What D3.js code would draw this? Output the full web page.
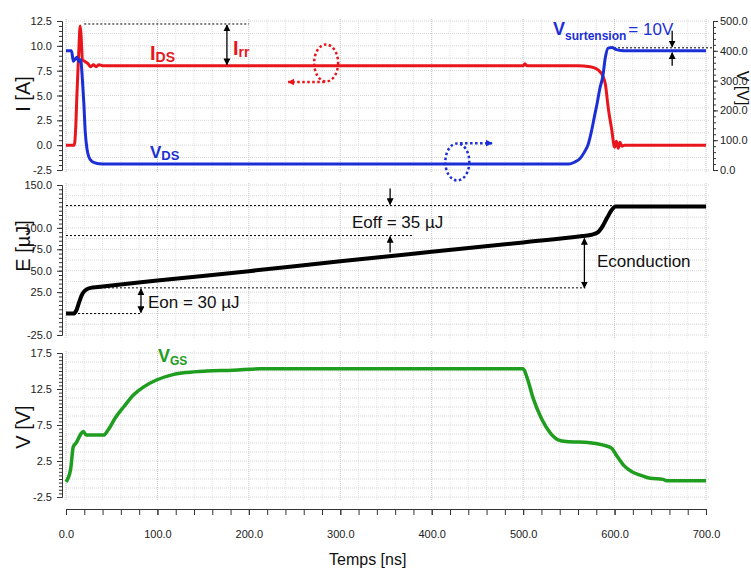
<!DOCTYPE html>
<html>
<head>
<meta charset="utf-8">
<script src="https://cdn.jsdelivr.net/npm/d3@7"></script>
<style>
body { margin: 0; background: #fff; }
text { font-family: "Liberation Sans", Arial, sans-serif; }
</style>
</head>
<body>
<svg id="chart" width="751" height="572"></svg>
<script>
// tick labels
var timeTicks = [0, 100, 200, 300, 400, 500, 600, 700];
var iTicks = [-2.5, 0, 2.5, 5, 7.5, 10, 12.5];
var vTicks = [0, 100, 200, 300, 400, 500];
var eTicks = [-25, 25, 50, 75, 100, 150];
var gTicks = [-2.5, 2.5, 7.5, 12.5, 17.5];

// I_DS [A]
var tI = [0, 9, 10.5, 12, 14, 15.5, 16.5, 18, 21, 24, 27, 30, 33, 36, 40, 100, 200, 300, 400, 500, 502, 504, 560, 573, 580, 584, 587, 590, 593, 597, 600, 602, 604, 606, 608, 611, 650, 700];
var iDS = [0, 0, 1.5, 5.2, 9.5, 12.0, 11.0, 8.6, 8.4, 8.2, 7.9, 8.1, 7.9, 8.1, 8.0, 8.0, 8.0, 8.0, 8.0, 8.0, 8.2, 8.0, 8.0, 7.9, 7.7, 7.4, 7.0, 6.1, 3.8, 1.5, -0.2, 0.4, -0.3, 0.3, -0.1, 0.0, 0.0, 0.0];

// V_DS [V]
var tV = [0, 6, 8, 10, 12, 14, 16, 18, 19.5, 21, 23, 25, 28, 32, 36, 45, 100, 200, 300, 400, 500, 550, 556, 562, 567, 571, 575, 578, 581, 584, 587, 590, 593, 597, 602, 607, 613, 620, 700];
var vDS = [400, 400, 365, 372, 378, 364, 370, 300, 225, 130, 70, 44, 30, 24, 21, 20, 20, 20, 20, 20, 20, 20, 26, 38, 60, 85, 134, 180, 225, 275, 312, 379, 409, 411, 404, 401, 400, 400, 400];

// E [uJ]
var tE = [0, 8, 11, 14, 17, 20, 23, 27, 35, 100, 200, 300, 400, 500, 565, 575, 582, 587, 592, 597, 601, 700];
var eVal = [0, 0, 3, 12, 21, 26, 28.5, 30, 31, 38.5, 49.5, 61, 72, 83, 90.5, 92, 95, 102, 112, 121, 125, 125];

// V_GS [V]
var tG = [0, 5, 8, 11, 17, 19, 22, 30, 41, 46, 54, 63, 74, 85, 99, 117, 132, 154, 183, 212, 300, 400, 500, 504, 511, 520, 530, 539, 547, 573, 588, 597, 602, 610, 619, 628, 639, 653, 657, 700];
var vGS = [-0.4, 1.3, 4.5, 5.0, 6.4, 6.6, 6.1, 6.1, 6.1, 6.8, 8.5, 10.0, 11.7, 12.8, 13.75, 14.5, 14.8, 15.0, 15.1, 15.3, 15.3, 15.3, 15.3, 14.2, 11.2, 8.4, 6.35, 5.4, 5.2, 5.05, 4.7, 4.25, 3.3, 1.9, 1.0, 0.55, 0.1, -0.05, -0.25, -0.25];

// energy levels for the annotations
var eLevels = [0, 30, 91, 126];

var red = "#e8161c", blue = "#1c2fd6", green = "#1f9d1f";

var svg = d3.select("#chart");

var x = d3.scaleLinear().domain([0, 700]).range([66, 706]);
var yI = d3.scaleLinear().domain([-2.5, 12.5]).range([170, 21]);
var yV = d3.scaleLinear().domain([0, 500]).range([170, 21]);
var yE = d3.scaleLinear().domain([-25, 150]).range([335, 185]);
var yG = d3.scaleLinear().domain([-2.5, 17.5]).range([497, 353]);

var defs = svg.append("defs");
function marker(id, color) {
	defs.append("marker")
		.attr("id", id)
		.attr("viewBox", "0 0 10 10")
		.attr("refX", 9)
		.attr("refY", 5)
		.attr("markerWidth", 7)
		.attr("markerHeight", 7)
		.attr("markerUnits", "userSpaceOnUse")
		.attr("orient", "auto-start-reverse")
		.append("path")
		.attr("d", "M0,0L10,5L0,10z")
		.attr("fill", color);
}
marker("arK", "#000");
marker("arR", red);
marker("arB", blue);

function grid(y, step) {
	var g = svg.append("g");
	var r = y.range(), dom = y.domain();
	g.selectAll("line.v")
		.data(d3.range(0, 701, 20))
		.enter()
			.append("line")
			.attr("x1", x).attr("x2", x)
			.attr("y1", r[1] - 2).attr("y2", r[0] + 3)
			.attr("stroke", function(d) { return d % 100 === 0 ? "#c2c2c2" : "#e3e3e3"; })
			.attr("stroke-dasharray", "1,1");
	g.selectAll("line.h")
		.data(d3.range(dom[0], dom[1] + step / 2, step))
		.enter()
			.append("line")
			.attr("x1", x.range()[0]).attr("x2", x.range()[1] + 4)
			.attr("y1", y).attr("y2", y)
			.attr("stroke", "#d6d6d6")
			.attr("stroke-dasharray", "1,1");
}
grid(yI, 1.25);
grid(yE, 12.5);
grid(yG, 1.25);

function fmt(d) { return d.toFixed(1); }

function styleAxis(g) {
	g.attr("font-family", "'Liberation Sans Narrow', 'Arial Narrow', sans-serif")
		.attr("font-size", 11);
	g.selectAll("text").attr("fill", "#222");
	g.selectAll("line, path").attr("stroke", "#333");
}

function leftAxis(y, ticks, minor) {
	var dom = y.domain();
	svg.append("g")
		.attr("transform", "translate(62,0)")
		.call(d3.axisLeft(y).tickValues(d3.range(dom[0], dom[1] + minor / 2, minor)).tickSize(3).tickSizeOuter(0).tickFormat(""))
		.call(styleAxis);
	svg.append("g")
		.attr("transform", "translate(62,0)")
		.call(d3.axisLeft(y).tickValues(ticks).tickSize(5).tickSizeOuter(0).tickPadding(5).tickFormat(fmt))
		.call(styleAxis);
}
leftAxis(yI, iTicks, 0.5);
leftAxis(yE, eTicks, 5);
leftAxis(yG, gTicks, 0.5);

svg.append("g")
	.attr("transform", "translate(713,0)")
	.call(d3.axisRight(yV).tickValues(d3.range(0, 501, 20)).tickSize(3).tickSizeOuter(0).tickFormat(""))
	.call(styleAxis);
svg.append("g")
	.attr("transform", "translate(713,0)")
	.call(d3.axisRight(yV).tickValues(vTicks).tickSize(5).tickSizeOuter(0).tickPadding(2).tickFormat(fmt))
	.call(styleAxis);

svg.append("g")
	.attr("transform", "translate(0,509)")
	.call(d3.axisBottom(x).tickValues(d3.range(0, 701, 20)).tickSize(6).tickSizeOuter(0).tickFormat(""))
	.call(styleAxis);
svg.append("g")
	.attr("transform", "translate(0,509)")
	.call(d3.axisBottom(x).tickValues(timeTicks).tickSize(6).tickSizeOuter(0).tickPadding(15).tickFormat(fmt))
	.call(styleAxis);

// axis titles
function vTitle(px, py, rot, txt, size) {
	svg.append("text")
		.attr("transform", "translate(" + px + "," + py + ") rotate(" + rot + ")")
		.attr("text-anchor", "middle")
		.attr("font-size", size)
		.attr("fill", "#111")
		.text(txt);
}
vTitle(30, 94, -90, "I [A]", 20);
vTitle(30, 246, -90, "E [\u00b5J]", 20);
vTitle(30, 427, -90, "V [V]", 20);
vTitle(737, 88, 90, "V [V]", 16);

svg.append("text")
	.attr("x", x(330)).attr("y", 565)
	.attr("text-anchor", "middle")
	.attr("font-size", 16)
	.attr("fill", "#111")
	.text("Temps [ns]");

// curves
function curve(ts, vs, y, color, w) {
	var pts = ts.map(function(t, i) { return [t, vs[i]]; });
	svg.append("path")
		.datum(pts)
		.attr("fill", "none")
		.attr("stroke", color)
		.attr("stroke-width", w)
		.attr("stroke-linejoin", "round")
		.attr("d", d3.line()
			.x(function(d) { return x(d[0]); })
			.y(function(d) { return y(d[1]); })
			.curve(d3.curveMonotoneX));
}

// dashed helper lines
function dash(t1, t2, yy) {
	svg.append("line")
		.attr("x1", x(t1)).attr("x2", x(t2))
		.attr("y1", yy).attr("y2", yy)
		.attr("stroke", "#000")
		.attr("stroke-width", 1)
		.attr("stroke-dasharray", "2,2");
}
function arrow(t, ya, yb, both, id) {
	var l = svg.append("line")
		.attr("x1", x(t)).attr("x2", x(t))
		.attr("y1", ya).attr("y2", yb)
		.attr("stroke", id === "arK" ? "#000" : (id === "arR" ? red : blue))
		.attr("stroke-width", 1.3)
		.attr("marker-end", "url(#" + id + ")");
	if (both) l.attr("marker-start", "url(#" + id + ")");
}

dash(20, 200, yI(12.2));
dash(595, 707, yV(410));
dash(0, 603, yE(eLevels[3]));
dash(0, 380, yE(eLevels[2]));
dash(24, 568, yE(eLevels[1]));
dash(0, 82, yE(eLevels[0]));

curve(tI, iDS, yI, red, 3);
curve(tV, vDS, yV, blue, 3);
curve(tE, eVal, yE, "#000", 4);
curve(tG, vGS, yG, green, 3.5);

// arrows
arrow(176, yI(12.2) + 1, yI(8.0) - 1, true, "arK");
arrow(663, yV(410) - 17, yV(410) - 1, false, "arK");
arrow(663, yV(410) + 18, yV(400) + 2, false, "arK");
arrow(82, yE(eLevels[1]) + 1, yE(eLevels[0]) - 1, true, "arK");
arrow(354.5, yE(eLevels[3]) - 17, yE(eLevels[3]) - 1, false, "arK");
arrow(354.5, yE(eLevels[2]) + 17, yE(eLevels[2]) + 1, false, "arK");
arrow(567, yE(90) + 2, yE(eLevels[1]), true, "arK");

// dotted circles showing which axis each curve uses
function loop(t, v, y, color) {
	svg.append("ellipse")
		.attr("cx", x(t)).attr("cy", y(v))
		.attr("rx", 12).attr("ry", 18.5)
		.attr("fill", "none")
		.attr("stroke", color)
		.attr("stroke-width", 2.5)
		.attr("stroke-dasharray", "2.5,2.5");
}
loop(284.5, 8.27, yI, red);
loop(428, 27, yV, blue);
svg.append("line")
	.attr("x1", x(283)).attr("x2", x(243))
	.attr("y1", yI(6.36)).attr("y2", yI(6.36))
	.attr("stroke", red).attr("stroke-width", 2.5).attr("stroke-dasharray", "2.5,2.5")
	.attr("marker-end", "url(#arR)");
svg.append("line")
	.attr("x1", x(431)).attr("x2", x(466))
	.attr("y1", yV(90)).attr("y2", yV(90))
	.attr("stroke", blue).attr("stroke-width", 2.5).attr("stroke-dasharray", "2.5,2.5")
	.attr("marker-end", "url(#arB)");

// labels
function subLabel(px, py, main, sub, color, size, subSize, dy) {
	var t = svg.append("text")
		.attr("x", px).attr("y", py)
		.attr("fill", color)
		.attr("font-weight", "bold")
		.attr("font-size", size);
	t.append("tspan").text(main);
	t.append("tspan").attr("dy", dy).attr("font-size", subSize).text(sub);
	return t;
}
subLabel(150, 60, "I", "DS", red, 20, 14, 2);
subLabel(150, 158, "V", "DS", blue, 17, 13, 2);
subLabel(233, 55, "I", "rr", red, 20, 14, 2);
subLabel(158, 362, "V", "GS", green, 18, 12, 3);
var vs = subLabel(553, 35, "V", "surtension", blue, 18, 12, 5);
vs.append("tspan").attr("dy", -5).attr("dx", 2).attr("font-weight", "normal").attr("font-size", 17).text("= 10V");

function note(px, py, txt) {
	svg.append("text")
		.attr("x", px).attr("y", py)
		.attr("font-size", 17)
		.attr("fill", "#111")
		.text(txt);
}
note(148, 308, "Eon = 30 \u00b5J");
note(352, 228, "Eoff = 35 \u00b5J");
note(597, 267, "Econduction");
</script>
</body>
</html>
